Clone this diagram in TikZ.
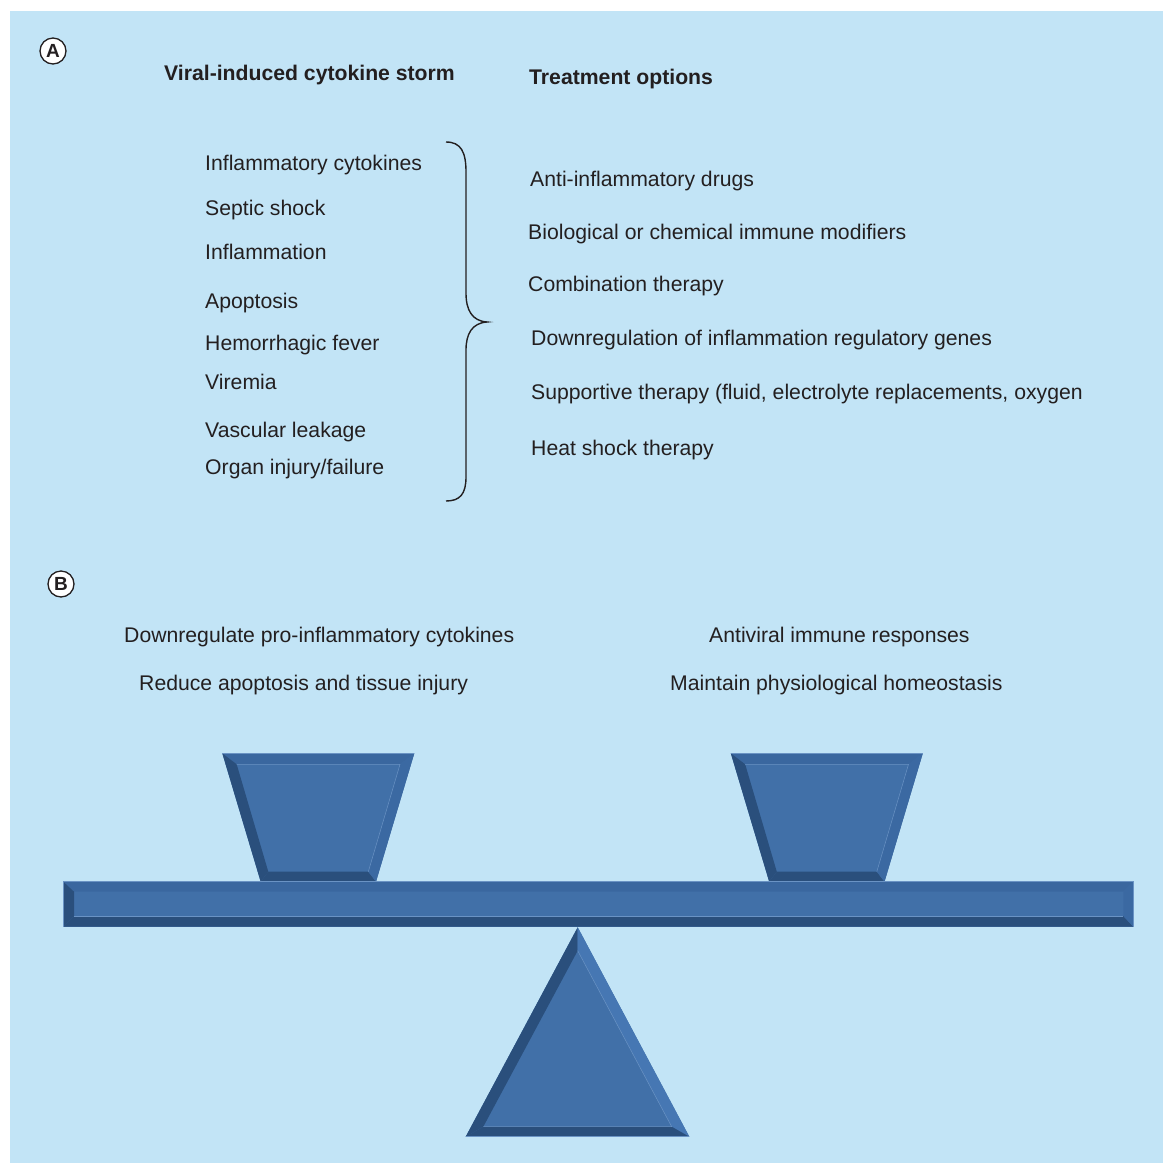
\documentclass[tikz,border=0pt]{standalone}
\usepackage{fontspec}
\setmainfont{Liberation Sans}
\definecolor{bgblue}{HTML}{C2E4F6}
\definecolor{mainblue}{HTML}{4170A8}
\definecolor{topblue}{HTML}{3A679F}
\definecolor{darkblue}{HTML}{2A4F7C}
\definecolor{rightblue}{HTML}{3B69A2}
\definecolor{lightblue}{HTML}{4677B3}
\definecolor{edgeblue}{HTML}{6A93C4}
\definecolor{ink}{HTML}{231F20}
\begin{document}
\begin{tikzpicture}[x=1pt,y=-1pt,
  txt/.style={anchor=base west,inner sep=0pt,text=ink,font=\fontsize{21.2}{25}\selectfont},
  head/.style={txt,font=\fontsize{21.2}{25}\selectfont\bfseries},
  panel/.style={circle,draw=ink,line width=1.3pt,fill=white,inner sep=0pt,minimum size=26pt,text=ink,font=\fontsize{19}{22}\selectfont\bfseries},
  edge/.style={draw=edgeblue,line width=0.5pt}]
\useasboundingbox (0,0) rectangle (1163,1163);
\fill[white] (0,0) rectangle (1163,1163);
\fill[bgblue] (10,11) rectangle (1163,1163);

% panel labels
\node[panel] (pA) at (53,51) {A};
\node[panel] (pB) at (61,584) {B};

% headings
\node[head] (h1) at (164,80) {Viral-induced cytokine storm};
\node[head] (h2) at (529,84.5) {Treatment options};

% left list
\node[txt] (l1) at (205,170.5) {Inflammatory cytokines};
\node[txt] (l2) at (205,215.5) {Septic shock};
\node[txt] (l3) at (205,259.5) {Inflammation};
\node[txt] (l4) at (205,308.5) {Apoptosis};
\node[txt] (l5) at (205,350.5) {Hemorrhagic fever};
\node[txt] (l6) at (205,389.5) {Viremia};
\node[txt] (l7) at (205,437.5) {Vascular leakage};
\node[txt] (l8) at (205,474.5) {Organ injury/failure};

% brace
\draw[ink,line width=1.4pt] (446,142) .. controls (461,142) and (466,152) .. (466,172) -- (466,293)
  .. controls (466,310) and (472,321) .. (487,322)
  .. controls (472,323) and (466,334) .. (466,350) -- (466,477)
  .. controls (466,494) and (460,501) .. (446,501);

% right list
\node[txt] (r1) at (530,186.5) {Anti-inflammatory drugs};
\node[txt] (r2) at (528,239.5) {Biological or chemical immune modifiers};
\node[txt] (r3) at (528,291.5) {Combination therapy};
\node[txt] (r4) at (531,345.5) {Downregulation of inflammation regulatory genes};
\node[txt] (r5) at (531,399.5) {Supportive therapy (fluid, electrolyte replacements, oxygen};
\node[txt] (r6) at (531,455.5) {Heat shock therapy};

% panel B texts
\node[txt] (b1) at (124,642.5) {Downregulate pro-inflammatory cytokines};
\node[txt] (b2) at (139,690.5) {Reduce apoptosis and tissue injury};
\node[txt] (b3) at (709,642.5) {Antiviral immune responses};
\node[txt] (b4) at (670,690.5) {Maintain physiological homeostasis};

% buckets
\foreach \dx in {0,508.5}{
  \begin{scope}[xshift=\dx]
    \fill[mainblue] (222.3,753.3) -- (414.3,753.3) -- (376,881.7) -- (260.7,881.7) -- cycle;
    \fill[topblue] (222.3,753.3) -- (414.3,753.3) -- (400,764.3) -- (236.7,764.3) -- cycle;
    \fill[darkblue] (222.3,753.3) -- (236.7,764.3) -- (268.3,871.7) -- (260.7,881.7) -- cycle;
    \fill[darkblue] (260.7,881.7) -- (268.3,871.7) -- (368.3,871.7) -- (376,881.7) -- cycle;
    \fill[rightblue] (414.3,753.3) -- (376,881.7) -- (368.3,871.7) -- (400,764.3) -- cycle;
    \draw[edge] (236.7,764.3) -- (400,764.3) -- (368.3,871.7);
    \draw[edge] (222.3,753.3) -- (414.3,753.3);
  \end{scope}
}

% beam
\fill[mainblue] (63.3,881.7) rectangle (1133.3,926.7);
\fill[topblue] (63.3,881.7) -- (1133.3,881.7) -- (1123.3,891.7) -- (74,891.7) -- cycle;
\fill[darkblue] (63.3,926.7) -- (1133.3,926.7) -- (1123.3,916) -- (74,916) -- cycle;
\fill[darkblue] (63.3,881.7) -- (74,891.7) -- (74,916) -- (63.3,926.7) -- cycle;
\fill[rightblue] (1133.3,881.7) -- (1123.3,891.7) -- (1123.3,916) -- (1133.3,926.7) -- cycle;
\draw[edge] (74,916) -- (1123.3,916);
\draw[edge] (63.3,881.7) -- (1133.3,881.7) -- (1133.3,926.7);
\draw[edge] (63.3,881.7) -- (63.3,926.7);

% fulcrum
\fill[mainblue] (577.7,927.3) -- (689.3,1136.7) -- (465.7,1136.7) -- cycle;
\fill[darkblue] (577.7,927.3) -- (577.7,950.7) -- (483.3,1126.7) -- (465.7,1136.7) -- cycle;
\fill[lightblue] (577.7,927.3) -- (689.3,1136.7) -- (671.7,1126.7) -- (577.7,950.7) -- cycle;
\fill[darkblue] (465.7,1136.7) -- (483.3,1126.7) -- (671.7,1126.7) -- (689.3,1136.7) -- cycle;
\draw[edge] (577.7,950.7) -- (671.7,1126.7) -- (483.3,1126.7);
\draw[edge] (465.7,1136.7) -- (689.3,1136.7);
\end{tikzpicture}
\end{document}
